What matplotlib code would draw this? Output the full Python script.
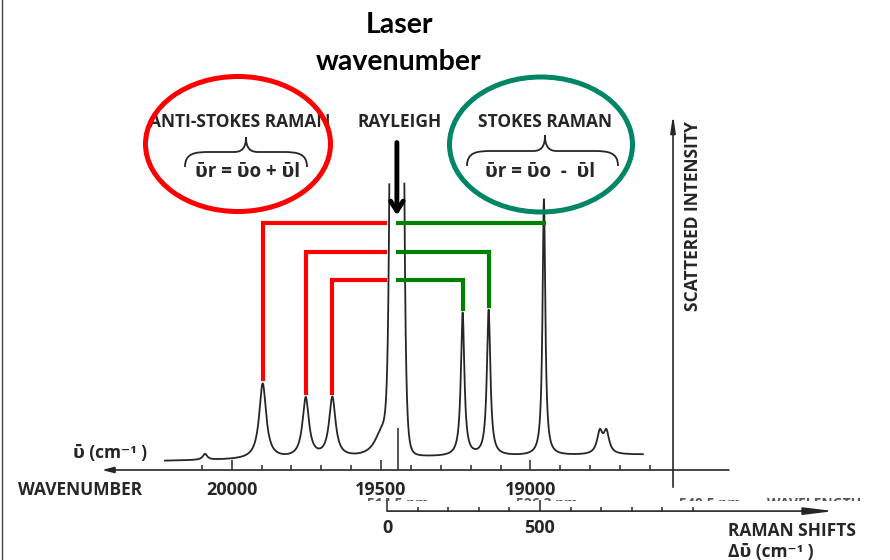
import numpy as np
import matplotlib
matplotlib.use('Agg')
import matplotlib.pyplot as plt
from matplotlib.patches import Ellipse, PathPatch
from matplotlib.path import Path
from matplotlib.lines import Line2D
from matplotlib.transforms import Bbox, TransformedBbox

# spectrum: wavenumber in cm-1, intensity in arbitrary units
laser_wn = 19447
rayleigh_height = 400.0      # saturated, runs off the page
rayleigh_clip = 108.5
rayleigh_hw = 21
shoulder_wn = 19497
shoulder_int = 10.0
shoulder_hwhm = 30

anti_stokes_wn = [19896, 19752, 19663]
anti_stokes_int = [29.0, 23.0, 23.0]
anti_stokes_hwhm = [14, 13, 13]

stokes_wn = [19227, 19140, 18955]
stokes_int = [55.0, 56.0, 98.5]
stokes_hwhm = [7, 7, 5.5]

minor_wn = [20089, 18768, 18746]
minor_int = [2.3, 8.3, 8.3]
minor_hwhm = [9, 11, 11]

scan_wn = [20223, 18624]
baseline_int = [1.6, 4.0]

wn_ticks = list(range(18600, 20101, 100))
wn_labels = [20000, 19500, 19000]
shift_ticks = list(range(100, 1001, 100))
shift_labels = [0, 500]

link_levels = [93, 82, 71]   # AS1-S3, AS2-S2, AS3-S1

ink = '#262626'
red = '#ff0000'
green = '#008000'
teal = '#008566'
scan_font = ['Open Sans', 'DejaVu Sans']

W, H = 890, 560
fig = plt.figure(figsize=(W / 100, H / 100), dpi=100)


def fx(x):
    return x / W


def fy(y):
    return 1 - y / H


ax = fig.add_axes([0, 0, 1, 1])
ax.set_xlim(20775, 17797)
ax.set_ylim(-36.5, 178.8)
ax.axis('off')

axr = fig.add_axes([0, 0, 1, 1])
axr.set_xlim(-1265, 1644)
axr.set_ylim(-36.5, 178.8)
axr.axis('off')


def lorentz(x, x0, a, g):
    return a / (1 + ((x - x0) / g) ** 2)


wn = np.linspace(scan_wn[0], scan_wn[1], 9000)
spec = baseline_int[0] + (baseline_int[1] - baseline_int[0]) * (wn - scan_wn[0]) / (scan_wn[1] - scan_wn[0])
for pos, amp, hw in zip(anti_stokes_wn + stokes_wn + minor_wn,
                        anti_stokes_int + stokes_int + minor_int,
                        anti_stokes_hwhm + stokes_hwhm + minor_hwhm):
    spec = spec + lorentz(wn, pos, amp, hw)
spec = spec + lorentz(wn, shoulder_wn, shoulder_int, shoulder_hwhm)
spec = spec + rayleigh_height / (1 + np.abs((wn - laser_wn) / rayleigh_hw) ** 6)
spec[spec > rayleigh_clip] = np.nan

ax.plot(wn, spec, color=ink, lw=1.3, zorder=3)


def top_of(pos):
    return spec[np.argmin(np.abs(wn - pos))]


# wavenumber axis
axis_y = -1.9
ax.annotate('', xy=(20434, axis_y), xytext=(18336, axis_y),
            arrowprops=dict(arrowstyle='-|>,head_length=0.7,head_width=0.18',
                            lw=1.2, color=ink, shrinkA=0, shrinkB=0))
ax.vlines([t for t in wn_ticks if t not in wn_labels], axis_y, axis_y + 1.9, color=ink, lw=1.1)
ax.vlines(wn_labels, axis_y, axis_y + 3.8, color=ink, lw=1.1)
ax.vlines([laser_wn - 5], axis_y, 14.2, color=ink, lw=1.1)
for t in wn_labels:
    ax.text(t, -9.6, str(t), ha='center', va='center', fontsize=13,
            fontweight='bold', family=scan_font, color=ink)

# scattered intensity axis
ax.annotate('', xy=(18523, 134.6), xytext=(18523, -8.5),
            arrowprops=dict(arrowstyle='-|>,head_length=1.0,head_width=0.15',
                            lw=1.2, color=ink, shrinkA=0, shrinkB=0))

# raman shift axis
raman_y = -17.7
axr.annotate('', xy=(1461, raman_y), xytext=(0, raman_y),
             arrowprops=dict(arrowstyle='-|>,head_length=1.8,head_width=0.22',
                             lw=1.2, color=ink, shrinkA=0, shrinkB=0))
axr.vlines([t for t in shift_ticks if t != 500], raman_y, raman_y + 1.7, color=ink, lw=1.1)
axr.vlines([500], raman_y, raman_y + 4.2, color=ink, lw=1.1)
axr.vlines([0], raman_y, raman_y + 5.0, color=ink, lw=1.1)
for t in shift_labels:
    axr.text(t, -24.2, str(t), ha='center', va='center', fontsize=13,
             fontweight='bold', family=scan_font, color=ink)

# connectors between matching anti-stokes and stokes lines
for i, level in enumerate(link_levels):
    a_pos = anti_stokes_wn[i]
    s_pos = stokes_wn[2 - i]
    ax.plot([a_pos, a_pos, laser_wn + 40], [top_of(a_pos) + 1.5, level, level],
            color=red, lw=3.0, solid_joinstyle='miter', zorder=4)
    s_top = top_of(s_pos)
    if s_top > level:
        ax.plot([laser_wn - 4, s_pos], [level, level], color=green, lw=3.0, zorder=4)
    else:
        ax.plot([laser_wn - 4, s_pos, s_pos], [level, level, s_top + 1.5],
                color=green, lw=3.0, solid_joinstyle='miter', zorder=4)

# laser arrow
ax.annotate('', xy=(laser_wn, 96), xytext=(laser_wn, 124),
            arrowprops=dict(arrowstyle='->,head_length=0.7,head_width=0.45',
                            lw=3.5, color='black', shrinkA=0, shrinkB=0), zorder=5)

# labels
fig.text(fx(399), fy(33), 'Laser', ha='center', va='baseline', fontsize=20.5,
         fontweight='bold', family='Lato', color='black')
fig.text(fx(399), fy(70), 'wavenumber', ha='center', va='baseline', fontsize=20.5,
         fontweight='bold', family='Lato', color='black')

lab = dict(fontsize=12.5, fontweight='bold', family=scan_font, color=ink)
fig.text(fx(240), fy(122), 'ANTI-STOKES RAMAN', ha='center', va='center', **lab)
fig.text(fx(400), fy(122), 'RAYLEIGH', ha='center', va='center', **lab)
fig.text(fx(545), fy(122), 'STOKES RAMAN', ha='center', va='center', **lab)
form = dict(lab, fontsize=13.5)
fig.text(fx(248), fy(172), 'ῡr = ῡo + ῡl', ha='center', va='center', **form)
fig.text(fx(540), fy(172), 'ῡr = ῡo  -  ῡl', ha='center', va='center', **form)
fig.text(fx(693), fy(216), 'SCATTERED INTENSITY', ha='center', va='center', rotation=90, **lab)
fig.text(fx(18), fy(490), 'WAVENUMBER', ha='left', va='center', **lab)
fig.text(fx(73), fy(453), 'ῡ (cm⁻¹ )', ha='left', va='center', **lab)
fig.text(fx(728), fy(531), 'RAMAN SHIFTS', ha='left', va='center', **lab)
fig.text(fx(728), fy(552), 'Δῡ (cm⁻¹ )', ha='left', va='center', **lab)

# scraps of the wavelength scale that the scan cut off: only their tops show
band = TransformedBbox(Bbox([[0, fy(501)], [1, fy(497)]]), fig.transFigure)
for txt, xc in [('514.5 nm', 398), ('526.3 nm', 547), ('540.5 nm  ←  WAVELENGTH', 770)]:
    t = fig.text(fx(xc), fy(497), txt, ha='center', va='top', fontsize=10,
                 fontweight='bold', family=scan_font, color='#555555')
    t.set_clip_on(True)
    t.set_clip_box(band)


def brace(x0, x1, xc, y_tip, y_mid, y_end):
    pts = [(x0, y_end), (x0, y_mid + 1), (x0 + 10, y_mid), (x0 + 25, y_mid),
           (xc - 12, y_mid),
           (xc - 4, y_mid), (xc, y_mid - 4), (xc, y_tip),
           (xc, y_mid - 4), (xc + 4, y_mid), (xc + 12, y_mid),
           (x1 - 25, y_mid),
           (x1 - 10, y_mid), (x1, y_mid + 1), (x1, y_end)]
    codes = [Path.MOVETO, Path.CURVE4, Path.CURVE4, Path.CURVE4, Path.LINETO,
             Path.CURVE4, Path.CURVE4, Path.CURVE4, Path.CURVE4, Path.CURVE4, Path.CURVE4,
             Path.LINETO, Path.CURVE4, Path.CURVE4, Path.CURVE4]
    verts = [(fx(x), fy(y)) for x, y in pts]
    fig.add_artist(PathPatch(Path(verts, codes), fill=False, lw=1.3, edgecolor=ink,
                             transform=fig.transFigure))


brace(185, 307, 246, 137, 152, 167)
brace(467, 618, 545, 135, 151, 166)

# circles round the two raman groups
fig.add_artist(Ellipse((fx(238), fy(144)), 185 / W, 135 / H, fill=False,
                       lw=3.6, edgecolor=red, transform=fig.transFigure, zorder=6))
fig.add_artist(Ellipse((fx(541), fy(144.5)), 183 / W, 135 / H, fill=False,
                       lw=3.6, edgecolor=teal, transform=fig.transFigure, zorder=6))

# page edge on the left
fig.add_artist(Line2D([fx(1.5), fx(1.5)], [0, 1], color='#444444', lw=1.0,
                      transform=fig.transFigure))

fig.savefig('out.png', dpi=100)
